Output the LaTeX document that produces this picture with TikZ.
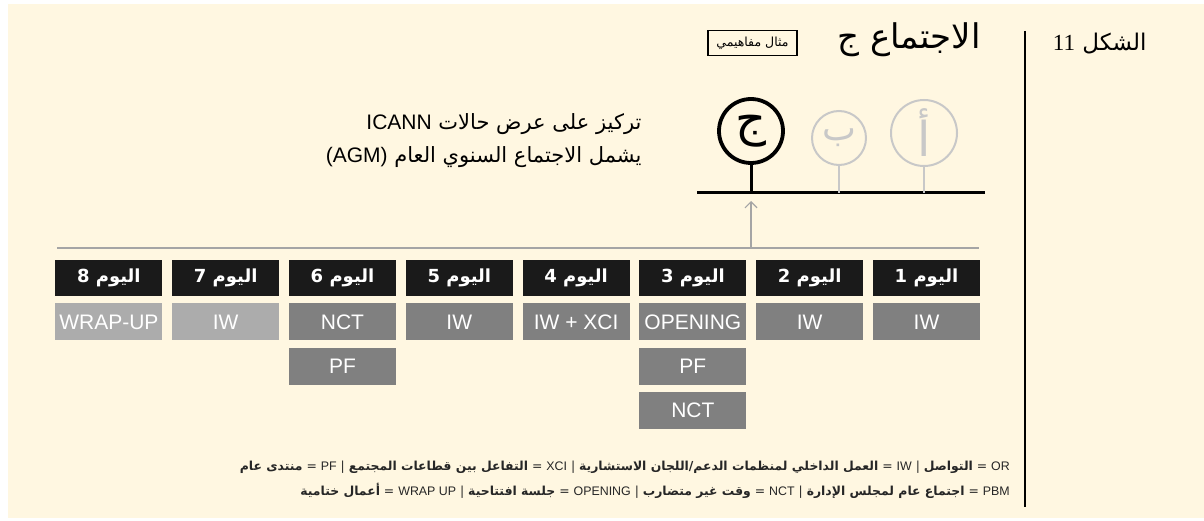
\documentclass[tikz,border=0pt]{standalone}
\usepackage{fontspec}
\setmainfont{Liberation Sans}
\newfontfamily\arabicfont[Script=Arabic]{DejaVu Sans}
\newfontfamily\serifnum{Liberation Serif}
\TeXXeTstate=1
\definecolor{paper}{RGB}{255,247,225}
\definecolor{headblack}{RGB}{26,26,26}
\definecolor{slotgray}{RGB}{128,128,128}
\definecolor{slotpale}{RGB}{172,172,172}
\definecolor{linegray}{RGB}{165,165,165}
\definecolor{circgray}{RGB}{200,200,200}
\usetikzlibrary{positioning,arrows.meta}
\newcommand{\ar}[1]{{\arabicfont\beginR #1\endR}}
\newcommand{\lat}[1]{\beginL{\normalfont #1}\endL{}}
\tikzset{
  dayhead/.style={fill=headblack, text=white, minimum width=107pt, minimum height=36pt, inner sep=0pt,
    font=\arabicfont\bfseries\fontsize{18}{20}\selectfont},
  slot/.style={fill=slotgray, text=white, minimum width=107pt, minimum height=37pt, inner sep=0pt,
    font=\fontsize{21}{24}\selectfont},
  paleslot/.style={slot, fill=slotpale},
  legend/.style={anchor=east, inner sep=0pt, text=black!85, font=\arabicfont\fontsize{12.4}{14}\selectfont},
}

\begin{document}
\begin{tikzpicture}[x=1pt,y=-1pt]
  \useasboundingbox (0,0) rectangle (1204,521);
  \fill[paper] (8,4) rectangle (1204,518);

  % heading
  \node[anchor=east, font=\arabicfont\fontsize{23}{25}\selectfont] (fig) at (1150,44) {\beginR الشكل \lat{\serifnum 11}\endR};
  \coordinate (sept) at (1025,31);
  \coordinate (sepb) at (1025,507);
  \draw[line width=2.5pt] (sept) -- (sepb);

  \node[anchor=east, font=\arabicfont\fontsize{34}{36}\selectfont] (title) at (984,40) {\ar{الاجتماع ج}};
  \node[draw, line width=1.2pt, minimum width=89pt, minimum height=25pt, inner sep=2pt,
    font=\arabicfont\fontsize{12.5}{14}\selectfont] (tag) at (752.5,43) {\ar{مثال مفاهيمي}};

  % meetings A B C
  \node[circle, draw, line width=3.8pt, minimum size=64pt, inner sep=0pt,
    font=\arabicfont\fontsize{48}{48}\selectfont] (mc) at (751,131) {\ar{ج}};
  \node[circle, draw=circgray, line width=2pt, minimum size=54pt, inner sep=0pt, text=circgray,
    font=\arabicfont\fontsize{36}{36}\selectfont] (mb) at (839,138) {\ar{ب}};
  \node[circle, draw=circgray, line width=2pt, minimum size=66pt, inner sep=0pt, text=circgray,
    font=\arabicfont\fontsize{48}{48}\selectfont] (ma) at (924,133) {\ar{أ}};

  \coordinate (tl) at (697,193);
  \coordinate (tr) at (985,193);
  \draw[line width=3pt] (tl) -- (tr);
  \draw[line width=3pt] (mc.south) -- (mc.south |- tl);
  \draw[circgray, line width=2pt] (mb.south) -- (mb.south |- tl);
  \draw[circgray, line width=2pt] (ma.south) -- (ma.south |- tl);

  \node[anchor=east, font=\arabicfont\fontsize{21}{23}\selectfont] (focus) at (645,124) {\beginR تركيز على عرض حالات \lat{ICANN}\endR};
  \node[anchor=east, font=\arabicfont\fontsize{21}{23}\selectfont] (agm) at (645,157) {\beginR يشمل الاجتماع السنوي العام \lat{(AGM)}\endR};

  % timeline
  \coordinate (gl) at (57,248);
  \coordinate (gr) at (979,248);
  \draw[linegray, line width=2pt] (gl) -- (gr);
  \draw[linegray, line width=1.2pt, -{Straight Barb[length=6pt,width=12pt]}, shorten >=8pt] (gl -| mc) -- (tl -| mc);

  % days
  \node[dayhead] (d1) at (926.5,278) {\ar{اليوم 1}};
  \node[dayhead, left=9.4pt of d1] (d2) {\ar{اليوم 2}};
  \node[dayhead, left=9.4pt of d2] (d3) {\ar{اليوم 3}};
  \node[dayhead, left=9.4pt of d3] (d4) {\ar{اليوم 4}};
  \node[dayhead, left=9.4pt of d4] (d5) {\ar{اليوم 5}};
  \node[dayhead, left=9.4pt of d5] (d6) {\ar{اليوم 6}};
  \node[dayhead, left=9.4pt of d6] (d7) {\ar{اليوم 7}};
  \node[dayhead, left=9.4pt of d7] (d8) {\ar{اليوم 8}};

  \node[slot, below=7pt of d1] (d1a) {IW};
  \node[slot, below=7pt of d2] (d2a) {IW};
  \node[slot, below=7pt of d3] (d3a) {OPENING};
  \node[slot, below=7pt of d3a] (d3b) {PF};
  \node[slot, below=7pt of d3b] (d3c) {NCT};
  \node[slot, below=7pt of d4] (d4a) {IW + XCI};
  \node[slot, below=7pt of d5] (d5a) {IW};
  \node[slot, below=7pt of d6] (d6a) {NCT};
  \node[slot, below=7pt of d6a] (d6b) {PF};
  \node[paleslot, below=7pt of d7] (d7a) {IW};
  \node[paleslot, below=7pt of d8] (d8a) {WRAP-UP};

  % key
  \node[legend] (key1) at (1010,467) {\beginR \lat{OR} = {\bfseries التواصل} | \lat{IW} = {\bfseries العمل الداخلي لمنظمات الدعم{}/{}اللجان الاستشارية} | \lat{XCI} = {\bfseries التفاعل بين قطاعات المجتمع} | \lat{PF} = {\bfseries منتدى عام}\endR};
  \node[legend] (key2) at (1010,491) {\beginR \lat{PBM} = {\bfseries اجتماع عام لمجلس الإدارة} | \lat{NCT} = {\bfseries وقت غير متضارب} | \lat{OPENING} = {\bfseries جلسة افتتاحية} | \lat{WRAP UP} = {\bfseries أعمال ختامية}\endR};
\end{tikzpicture}
\end{document}
